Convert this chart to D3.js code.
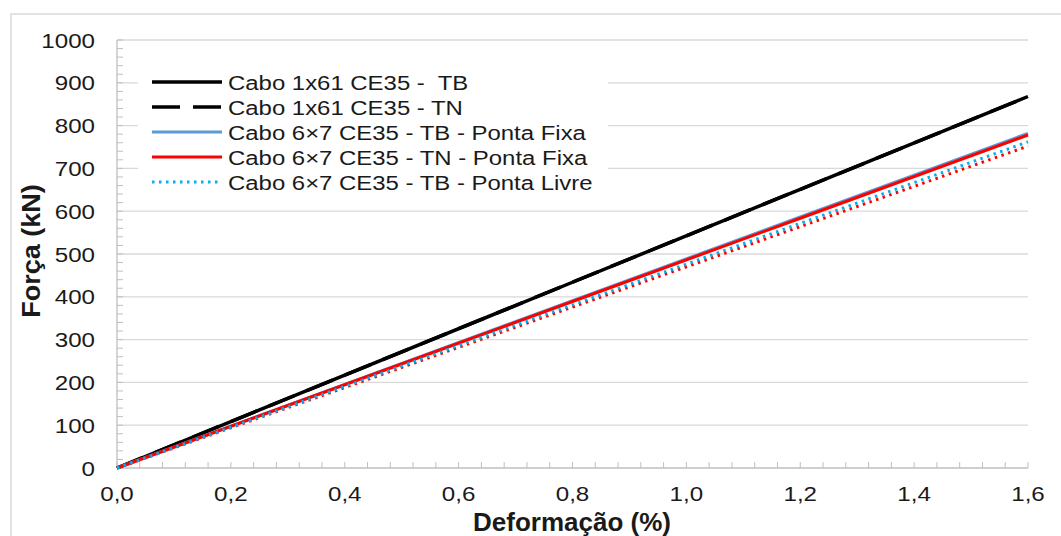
<!DOCTYPE html>
<html><head><meta charset="utf-8">
<script src="https://cdn.jsdelivr.net/npm/d3@7"></script>
<style>
html,body{margin:0;padding:0;background:#fff;}
svg{display:block;font-family:"Liberation Sans",Arial,sans-serif;}
text{white-space:pre;}
</style></head>
<body><svg id="chart" width="1061" height="536"></svg>
<script>
// ---- data ----
const strain = [0, 0.4, 0.8, 1.2, 1.6];
const cabo161TB = [0, 217, 434, 651, 868];
const cabo161TN = [0, 217, 434, 651, 868];
const cabo67TBFixa = [0, 195.5, 391, 586.5, 782];
const cabo67TNFixa = [0, 194.5, 389, 583.5, 778];
const cabo67TBLivre = [0, 190.5, 381, 571.5, 762];
const cabo67TNLivre = [0, 188, 376, 564, 752];
const yTicks = [0,100,200,300,400,500,600,700,800,900,1000];
const xTicks = [0,0.2,0.4,0.6,0.8,1.0,1.2,1.4,1.6];
const legendLabels = [
  "Cabo 1x61 CE35 -  TB",
  "Cabo 1x61 CE35 - TN",
  "Cabo 6\u00d77 CE35 - TB - Ponta Fixa",
  "Cabo 6\u00d77 CE35 - TN - Ponta Fixa",
  "Cabo 6\u00d77 CE35 - TB - Ponta Livre"
];
const xTitle = "Deforma\u00e7\u00e3o (%)";
const yTitle = "For\u00e7a (kN)";

const series = [
  {vals: cabo161TB, color:"#000000", width:3.5, dash:null, legend:0},
  {vals: cabo161TN, color:"#000000", width:3.5, dash:"28 13", legend:1},
  {vals: cabo67TBFixa, color:"#5b9bd5", width:3, dash:null, legend:2},
  {vals: cabo67TNFixa, color:"#ff0000", width:3, dash:null, legend:3},
  {vals: cabo67TBLivre, color:"#00b0f0", width:3, dash:"2.5 4.5", legend:4},
  {vals: cabo67TNLivre, color:"#ff0000", width:3, dash:"2.5 4.5", legend:null}
];

const svg = d3.select("#chart");

// outer border
svg.append("rect").attr("x",11).attr("y",14).attr("width",1070).attr("height",540)
  .attr("fill","none").attr("stroke","#d9d9d9").attr("stroke-width",1.5);

const x = d3.scaleLinear().domain([0,1.6]).range([117,1028]);
const y = d3.scaleLinear().domain([0,1000]).range([468,40]);

// gridlines
svg.append("g").selectAll("line").data(yTicks.filter(d=>d>0)).join("line")
  .attr("x1",x(0)).attr("x2",x(1.6)).attr("y1",d=>y(d)).attr("y2",d=>y(d))
  .attr("stroke","#d9d9d9").attr("stroke-width",1.3);

// y minor ticks
const yMinor = d3.range(0,1001,20);
svg.append("g").selectAll("line").data(yMinor).join("line")
  .attr("x1",x(0)).attr("x2",x(0)+6).attr("y1",d=>y(d)).attr("y2",d=>y(d))
  .attr("stroke","#bfbfbf").attr("stroke-width",1);
// x minor ticks
const xMinor = d3.range(0,41).map(i=>i*0.04);
svg.append("g").selectAll("line").data(xMinor).join("line")
  .attr("x1",d=>x(d)).attr("x2",d=>x(d)).attr("y1",y(0)).attr("y2",y(0)-6)
  .attr("stroke","#bfbfbf").attr("stroke-width",1);
// axis lines
svg.append("line").attr("x1",x(0)).attr("x2",x(0)).attr("y1",y(0)).attr("y2",y(1000))
  .attr("stroke","#bfbfbf").attr("stroke-width",1.3);
svg.append("line").attr("x1",x(0)).attr("x2",x(1.6)).attr("y1",y(0)).attr("y2",y(0))
  .attr("stroke","#bfbfbf").attr("stroke-width",1.3);

// text helper
function txt(g, t, px, py, anchor, size, weight, sx, rot){
  const e = g.append("text").text(t).attr("text-anchor",anchor)
    .attr("font-size",size).attr("font-weight",weight||"normal").attr("fill","#1a1a1a");
  e.attr("transform",`translate(${px},${py})${rot?" rotate(-90)":""} scale(${sx},1)`);
  return e;
}
const fmtX = d=>d.toFixed(1).replace(".",",");
yTicks.forEach(d=>txt(svg, d, 95, y(d)+7.5, "end", 21, "normal", 1.15));
xTicks.forEach(d=>txt(svg, fmtX(d), x(d), 501, "middle", 21, "normal", 1.15));

// titles
txt(svg, xTitle, 572, 531, "middle", 26, "bold", 1.0);
txt(svg, yTitle, 39.5, 251, "middle", 26, "bold", 1.04, true);

// lines
const line = d3.line().x((d,i)=>x(strain[i])).y(d=>y(d));
const order = [0,1,2,3,5,4];
order.forEach(k=>{
  const s = series[k];
  svg.append("path").datum(s.vals).attr("d",line).attr("fill","none")
    .attr("stroke",s.color).attr("stroke-width",s.width)
    .attr("stroke-dasharray",s.dash);
});

// legend
const lg = svg.append("g");
lg.append("rect").attr("x",138).attr("y",64).attr("width",470).attr("height",130).attr("fill","#fff");
series.filter(s=>s.legend!==null).forEach(s=>{
  const cy = 82 + s.legend*25;
  lg.append("line").attr("x1",152).attr("x2",222).attr("y1",cy).attr("y2",cy)
    .attr("stroke",s.color).attr("stroke-width",s.width).attr("stroke-dasharray",s.dash);
  txt(lg, legendLabels[s.legend], 228, cy+7.5, "start", 21, "normal", 1.14);
});
</script></body></html>
